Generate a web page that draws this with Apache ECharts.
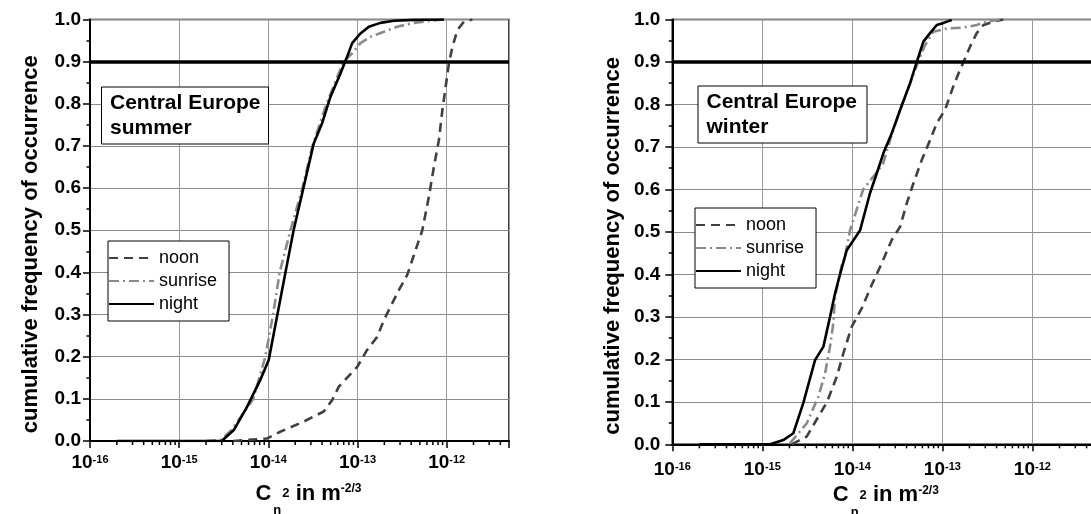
<!DOCTYPE html>
<html>
<head>
<meta charset="utf-8">
<script src="https://cdn.jsdelivr.net/npm/echarts@6/dist/echarts.min.js"></script>
<style>html,body{margin:0;padding:0;background:#fff}#c{width:1091px;height:514px}</style>
</head>
<body>
<div id="c"></div>
<script>
// ---- axis ranges and tick labels ----
const xMin = 1e-16, xMax = 5e-12;
const xTickExponents = [-16, -15, -14, -13, -12];
const minorMultipliers = [2, 3, 4, 5, 6, 7, 8, 9];
const yTickLabels = ['0.0','0.1','0.2','0.3','0.4','0.5','0.6','0.7','0.8','0.9','1.0'];
const seriesNames = ['noon', 'sunrise', 'night'];
const panelTitles = ['Central Europe\nsummer', 'Central Europe\nwinter'];
const thresholds = [0.9, 0.902];

// ---- summer ----
const summerNoonX = [4.05e-15, 9.66e-15, 1.36e-14, 2.49e-14, 4.18e-14, 5.2e-14, 6.17e-14, 9.93e-14, 1.28e-13, 1.66e-13, 1.98e-13, 2.35e-13, 2.91e-13, 3.61e-13, 4.12e-13, 5.33e-13, 6.32e-13, 7.2e-13, 8.18e-13, 8.95e-13, 9.75e-13, 1.06e-12, 1.16e-12, 1.32e-12, 1.56e-12, 1.94e-12];
const summerNoonY = [0, 0.006, 0.022, 0.046, 0.07, 0.097, 0.129, 0.176, 0.216, 0.247, 0.287, 0.319, 0.358, 0.394, 0.43, 0.50, 0.58, 0.651, 0.714, 0.785, 0.841, 0.896, 0.935, 0.975, 0.995, 1.0];
const summerSunriseX = [2.0e-15, 3.0e-15, 4.0e-15, 6.78e-15, 9.25e-15, 1.13e-14, 1.34e-14, 1.77e-14, 2.41e-14, 3.12e-14, 4.49e-14, 6.97e-14, 8.71e-14, 1.08e-13, 1.40e-13, 1.98e-13, 2.79e-13, 4.29e-13, 6.61e-13, 9.3e-13];
const summerSunriseY = [0, 0.003, 0.03, 0.1, 0.2, 0.3, 0.4, 0.5, 0.6, 0.7, 0.8, 0.9, 0.92, 0.944, 0.959, 0.971, 0.983, 0.992, 0.997, 1.0];
const summerNightX = [2.0e-16, 3.0e-15, 4.1e-15, 5.77e-15, 6.84e-15, 8.13e-15, 1.01e-14, 1.25e-14, 1.55e-14, 1.92e-14, 2.49e-14, 3.23e-14, 4.01e-14, 4.98e-14, 6.44e-14, 7.66e-14, 8.71e-14, 1.08e-13, 1.34e-13, 1.81e-13, 2.56e-13, 4.29e-13, 9.33e-13];
const summerNightY = [0, 0, 0.026, 0.081, 0.113, 0.145, 0.192, 0.295, 0.398, 0.50, 0.603, 0.706, 0.754, 0.817, 0.872, 0.912, 0.944, 0.967, 0.983, 0.992, 0.997, 0.999, 1.0];

// ---- winter ----
const winterNoonX = [2.12e-15, 3.11e-15, 4.19e-15, 5.24e-15, 6.71e-15, 7.94e-15, 9.85e-15, 1.27e-14, 1.64e-14, 2.12e-14, 2.74e-14, 3.39e-14, 4.02e-14, 4.76e-14, 5.9e-14, 7.3e-14, 8.67e-14, 1.07e-13, 1.32e-13, 1.51e-13, 1.79e-13, 2.03e-13, 2.41e-13, 2.86e-13, 3.69e-13, 4.76e-13];
const winterNoonY = [0, 0.018, 0.065, 0.10, 0.159, 0.214, 0.277, 0.32, 0.375, 0.426, 0.481, 0.512, 0.567, 0.614, 0.669, 0.716, 0.756, 0.787, 0.842, 0.873, 0.909, 0.936, 0.968, 0.987, 0.995, 1.0];
const winterSunriseX = [2.02e-15, 3.11e-15, 4.19e-15, 4.98e-15, 5.65e-15, 6.15e-15, 6.42e-15, 7.6e-15, 8.3e-15, 9.43e-15, 1.32e-14, 1.71e-14, 2.19e-14, 2.74e-14, 3.39e-14, 4.38e-14, 5.37e-14, 6.43e-14, 7.94e-14, 1.12e-13, 1.71e-13, 2.41e-13, 3.11e-13, 4.38e-13];
const winterSunriseY = [0.002, 0.049, 0.112, 0.167, 0.23, 0.285, 0.347, 0.42, 0.442, 0.504, 0.6, 0.63, 0.66, 0.73, 0.787, 0.85, 0.9, 0.94, 0.971, 0.979, 0.981, 0.987, 0.995, 1.0];
const winterNightX = [2.0e-16, 1.22e-15, 1.71e-15, 2.21e-15, 2.85e-15, 3.85e-15, 4.77e-15, 5.65e-15, 6.42e-15, 7.3e-15, 8.67e-15, 1.22e-14, 1.57e-14, 1.87e-14, 2.21e-14, 2.74e-14, 3.39e-14, 4.38e-14, 5.2e-14, 6.15e-14, 7.3e-14, 8.67e-14, 1.03e-13, 1.27e-13];
const winterNightY = [0, 0, 0.010, 0.026, 0.097, 0.198, 0.23, 0.30, 0.355, 0.40, 0.457, 0.504, 0.591, 0.638, 0.685, 0.732, 0.787, 0.85, 0.90, 0.948, 0.968, 0.987, 0.992, 0.999];

const FONT = "'Liberation Sans', Arial, Helvetica, sans-serif";
const zip = (xs, ys) => xs.map((x, i) => [x, ys[i]]);

const minorTickValues = [];
xTickExponents.forEach(e => minorMultipliers.forEach(m => {
  const v = m * Math.pow(10, e);
  if (v < xMax) minorTickValues.push([v, 0]);
}));

const styles = {
  noon:    { color: '#404040', width: 2.6, type: [9, 6] },
  sunrise: { color: '#8a8a8a', width: 2.6, type: [10, 4, 2, 4] },
  night:   { color: '#000000', width: 2.6, type: 'solid' }
};

function xAxisCfg(gi, labelMargin, nameGap, namePadLeft) {
  return {
    type: 'log', logBase: 10, gridIndex: gi, min: xMin, max: xMax,
    name: '{c|C}{sub|n}{sup|2}{t| in m}{sup2|-2/3}',
    nameLocation: 'middle', nameGap: nameGap,
    nameTextStyle: {
      verticalAlign: 'top',
      rich: {
        c: { fontFamily: FONT, fontSize: 22, fontWeight: 'bold', color: '#000', lineHeight: 31, verticalAlign: 'top', padding: [0, 0, 0, namePadLeft] },
        sub: { fontFamily: FONT, fontSize: 13, fontWeight: 'bold', color: '#000', lineHeight: 13, verticalAlign: 'top', padding: [21.5, 1, 0, 2] },
        sup: { fontFamily: FONT, fontSize: 13, fontWeight: 'bold', color: '#000', lineHeight: 13, verticalAlign: 'top', padding: [4.5, 0, 0, 0] },
        t: { fontFamily: FONT, fontSize: 22, fontWeight: 'bold', color: '#000', lineHeight: 31, verticalAlign: 'top' },
        sup2: { fontFamily: FONT, fontSize: 12, fontWeight: 'bold', color: '#000', lineHeight: 12, verticalAlign: 'top', padding: [0, 0, 0, 0] }
      }
    },
    axisLine: { show: true, onZero: false, lineStyle: { color: '#000', width: 2 } },
    axisTick: { show: true, length: 7, lineStyle: { color: '#000', width: 1.5 } },
    axisLabel: {
      margin: labelMargin,
      formatter: function (v) {
        const e = Math.log10(v), r = Math.round(e);
        if (Math.abs(e - r) > 1e-6 || xTickExponents.indexOf(r) < 0) return '';
        return '{b|10}{s|' + r + '}';
      },
      rich: {
        b: { fontFamily: FONT, fontSize: 19, fontWeight: 'bold', color: '#000', lineHeight: 22, verticalAlign: 'top' },
        s: { fontFamily: FONT, fontSize: 11, fontWeight: 'bold', color: '#000', lineHeight: 11, verticalAlign: 'top', padding: [1, 0, 0, 0] }
      }
    },
    splitLine: { show: true, lineStyle: { color: '#9a9a9a', width: 1 } }
  };
}

function yAxisCfg(gi, labelMargin) {
  return {
    type: 'value', gridIndex: gi, min: 0, max: 1, interval: 0.1,
    name: 'cumulative frequency of occurrence',
    nameLocation: 'middle', nameGap: 48,
    nameTextStyle: { fontFamily: FONT, fontSize: 22, fontWeight: 'bold', color: '#000', padding: [0, 28, 0, 0] },
    axisLine: { show: true, onZero: false, lineStyle: { color: '#000', width: 2 } },
    axisTick: { show: true, length: 7, lineStyle: { color: '#000', width: 1.5 } },
    minorTick: { show: true, splitNumber: 2, length: 3.5, lineStyle: { color: '#000', width: 1.5 } },
    axisLabel: {
      margin: labelMargin,
      fontFamily: FONT, fontSize: 19, fontWeight: 'bold', color: '#000',
      formatter: function (v) { return yTickLabels[Math.round(v * 10)]; }
    },
    splitLine: { show: true, lineStyle: { color: '#8a8a8a', width: 1 } }
  };
}

function lineSeries(name, gi, xs, ys, markY) {
  const s = styles[name];
  const obj = {
    name: name, type: 'line', xAxisIndex: gi, yAxisIndex: gi,
    data: zip(xs, ys), symbol: 'none', showSymbol: false,
    lineStyle: { color: s.color, width: s.width, type: s.type },
    itemStyle: { color: s.color },
    z: name === 'night' ? 5 : (name === 'sunrise' ? 4 : 3)
  };
  if (markY !== undefined) {
    obj.markLine = {
      silent: true, symbol: 'none', label: { show: false },
      lineStyle: { color: '#000', width: 3.5, type: 'solid' },
      data: [{ yAxis: markY }]
    };
  }
  return obj;
}

function minorTickSeries(gi) {
  return {
    type: 'custom', xAxisIndex: gi, yAxisIndex: gi, silent: true, clip: false,
    data: minorTickValues,
    renderItem: function (params, api) {
      const p = api.coord([api.value(0), api.value(1)]);
      return { type: 'line', shape: { x1: p[0], y1: p[1], x2: p[0], y2: p[1] + 4 },
               style: { stroke: '#000', lineWidth: 1.5 } };
    },
    z: 1
  };
}

function legendCfg(left, top) {
  return {
    data: seriesNames, orient: 'vertical', left: left, top: top,
    itemWidth: 45, itemHeight: 2, itemGap: 5, padding: [8, 12, 8, 0],
    borderColor: '#000', borderWidth: 1, backgroundColor: '#fff', borderRadius: 0,
    selectedMode: false,
    itemStyle: { opacity: 0 },
    textStyle: { fontFamily: FONT, fontSize: 18, color: '#000' }
  };
}

function titleCfg(text, left, top, padR) {
  return {
    text: text, left: left, top: top, padding: [4, padR, 4, 9],
    borderColor: '#000', borderWidth: 1, backgroundColor: '#fff',
    textStyle: { fontFamily: FONT, fontSize: 21, fontWeight: 'bold', color: '#000', lineHeight: 25 }
  };
}

const option = {
  animation: false,
  backgroundColor: '#fff',
  title: [titleCfg(panelTitles[0], 101, 86.5, 8), titleCfg(panelTitles[1], 697.5, 85.5, 10)],
  legend: [legendCfg(108, 241), legendCfg(695, 208)],
  grid: [
    { left: 90, top: 19.5, width: 419, height: 421.5, show: true, outerBoundsMode: 'none', containLabel: false, borderColor: '#000', borderWidth: 1.5, backgroundColor: 'transparent' },
    { left: 672.3, top: 19.5, width: 423, height: 424.8, show: true, outerBoundsMode: 'none', containLabel: false, borderColor: '#000', borderWidth: 1.5, backgroundColor: 'transparent' }
  ],
  xAxis: [xAxisCfg(0, 12.5, 41.5, 18), xAxisCfg(1, 16, 40, 4)],
  yAxis: [yAxisCfg(0, 9), yAxisCfg(1, 12)],
  series: [
    lineSeries('noon', 0, summerNoonX, summerNoonY),
    lineSeries('sunrise', 0, summerSunriseX, summerSunriseY),
    lineSeries('night', 0, summerNightX, summerNightY, thresholds[0]),
    minorTickSeries(0),
    lineSeries('noon', 1, winterNoonX, winterNoonY),
    lineSeries('sunrise', 1, winterSunriseX, winterSunriseY),
    lineSeries('night', 1, winterNightX, winterNightY, thresholds[1]),
    minorTickSeries(1)
  ]
};

const chart = echarts.init(document.getElementById('c'), null, { renderer: 'canvas' });
chart.setOption(option);
</script>
</body>
</html>
